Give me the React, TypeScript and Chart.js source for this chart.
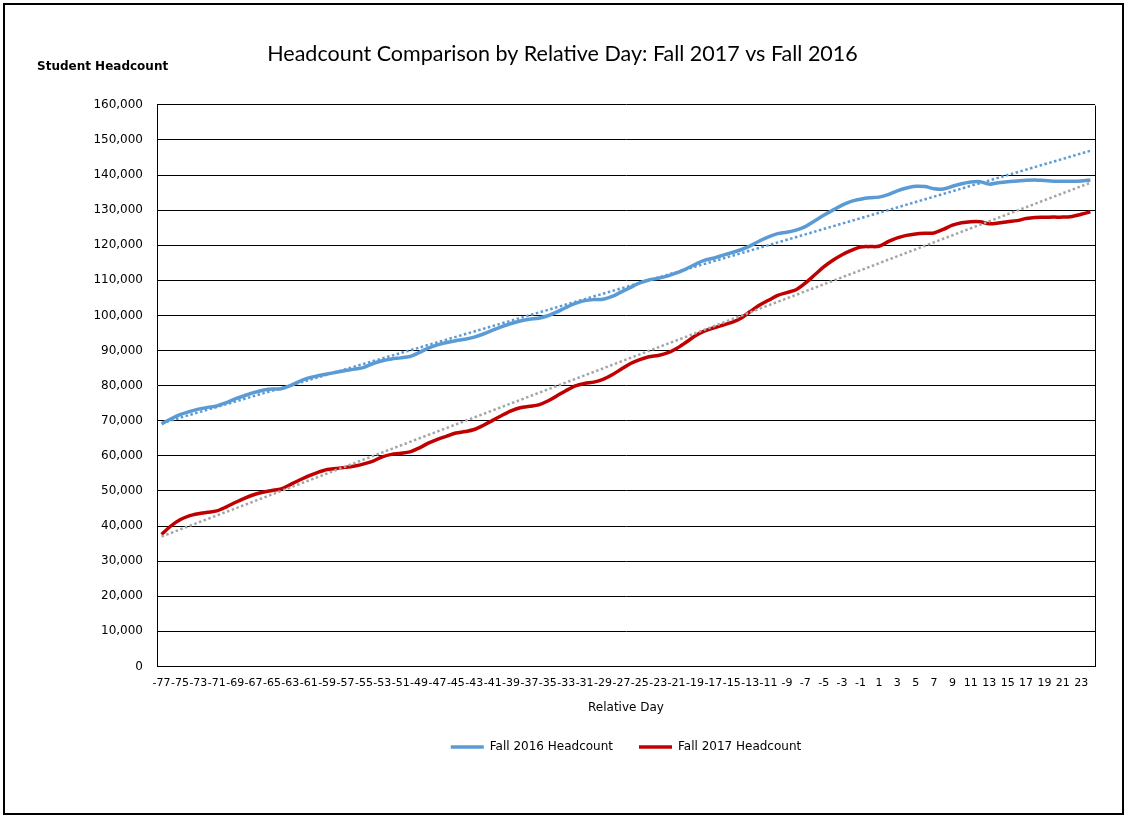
import React, { useEffect, useRef } from "react";
import { Chart, registerables } from "chart.js";

Chart.register(...registerables);

// Relative day categories (-77 .. 24)
const relativeDays: number[] = [
  -77, -76, -75, -74, -73, -72, -71, -70, -69, -68,
  -67, -66, -65, -64, -63, -62, -61, -60, -59, -58,
  -57, -56, -55, -54, -53, -52, -51, -50, -49, -48,
  -47, -46, -45, -44, -43, -42, -41, -40, -39, -38,
  -37, -36, -35, -34, -33, -32, -31, -30, -29, -28,
  -27, -26, -25, -24, -23, -22, -21, -20, -19, -18,
  -17, -16, -15, -14, -13, -12, -11, -10, -9, -8,
  -7, -6, -5, -4, -3, -2, -1, 0, 1, 2,
  3, 4, 5, 6, 7, 8, 9, 10, 11, 12,
  13, 14, 15, 16, 17, 18, 19, 20, 21, 22,
  23, 24,
];

const fall2016: number[] = [
  69100, 70500, 71700, 72600, 73300, 73800, 74200, 75100, 76200, 77100,
  78000, 78700, 79000, 79100, 80000, 81200, 82200, 82800, 83300, 83800,
  84300, 84700, 85200, 86300, 87100, 87600, 87900, 88300, 89400, 90700,
  91600, 92300, 92800, 93200, 93800, 94700, 95800, 96800, 97700, 98400,
  98900, 99200, 99900, 101000, 102300, 103400, 104200, 104500, 104600, 105400,
  106700, 108000, 109300, 110100, 110600, 111200, 112100, 113200, 114500, 115700,
  116300, 117100, 117900, 118700, 119800, 121200, 122400, 123300, 123700, 124300,
  125300, 126900, 128500, 130000, 131400, 132500, 133100, 133500, 133700, 134400,
  135500, 136300, 136800, 136700, 136100, 136000, 136800, 137500, 138000, 138100,
  137400, 137800, 138100, 138300, 138500, 138600, 138400, 138200, 138200, 138200,
  138300, 138600,
];

const fall2017: number[] = [
  37600, 40000, 41800, 42900, 43500, 43900, 44300, 45400, 46700, 47900,
  48900, 49600, 50100, 50600, 51800, 53100, 54300, 55300, 56100, 56400,
  56700, 57100, 57700, 58500, 59700, 60400, 60700, 61100, 62200, 63600,
  64700, 65600, 66500, 66900, 67500, 68700, 70100, 71500, 72800, 73700,
  74100, 74500, 75600, 77100, 78600, 79900, 80600, 81000, 81800, 83100,
  84700, 86300, 87400, 88200, 88600, 89300, 90600, 92300, 94100, 95500,
  96400, 97200, 98000, 99200, 101100, 102900, 104300, 105700, 106500, 107300,
  109200, 111500, 113800, 115700, 117300, 118500, 119500, 119600, 119700, 121000,
  122100, 122800, 123200, 123400, 123500, 124500, 125700, 126400, 126700, 126700,
  126100, 126300, 126700, 127000, 127600, 127900, 127950, 128000, 128000, 128200,
  128800, 129500,
];

// Linear trendline end values (first and last category)
const trend2016Ends: number[] = [69300, 146900];
const trend2017Ends: number[] = [37000, 137800];

const yMin = 0;
const yMax = 160000;
const yStep = 10000;

const TITLE = "Headcount Comparison by Relative Day: Fall 2017 vs Fall 2016";
const Y_TITLE = "Student Headcount";
const X_TITLE = "Relative Day";
const SERIES_2016 = "Fall 2016 Headcount";
const SERIES_2017 = "Fall 2017 Headcount";

const BLUE = "#5B9BD5";
const RED = "#C00000";
const GRAY = "#A5A5A5";

function endsToSeries(ends: number[], n: number): (number | null)[] {
  const arr: (number | null)[] = new Array(n).fill(null);
  arr[0] = ends[0];
  arr[n - 1] = ends[1];
  return arr;
}

const framePlugin = {
  id: "frameAndYTitle",
  beforeDatasetsDraw(chart: any) {
    const { ctx, chartArea: a } = chart;
    ctx.save();
    ctx.strokeStyle = "#000";
    ctx.lineWidth = 1;
    const t = Math.round(a.top) + 0.5;
    const r = Math.round(a.right) + 0.5;
    const b = Math.round(a.bottom) + 0.5;
    ctx.beginPath();
    ctx.moveTo(r, t);
    ctx.lineTo(r, b);
    ctx.stroke();
    ctx.restore();
  },
  afterDraw(chart: any) {
    const { ctx } = chart;
    ctx.save();
    ctx.font = 'bold 12px "DejaVu Sans"';
    ctx.fillStyle = "#000";
    ctx.textBaseline = "middle";
    ctx.textAlign = "left";
    ctx.fillText(Y_TITLE, 37, 67);
    ctx.restore();
  },
};

export default function App() {
  const canvasRef = useRef<HTMLCanvasElement | null>(null);

  useEffect(() => {
    if (!canvasRef.current) return;
    const n = relativeDays.length;
    const chart = new Chart(canvasRef.current, {
      type: "line",
      data: {
        labels: relativeDays.map((d) => String(d)),
        datasets: [
          {
            label: "Linear (Fall 2016 Headcount)",
            data: endsToSeries(trend2016Ends, n),
            borderColor: BLUE,
            borderWidth: 2.5,
            borderDash: [2.5, 2.5],
            pointRadius: 0,
            spanGaps: true,
            tension: 0,
            fill: false,
          },
          {
            label: "Linear (Fall 2017 Headcount)",
            data: endsToSeries(trend2017Ends, n),
            borderColor: GRAY,
            borderWidth: 2.5,
            borderDash: [2.5, 2.5],
            pointRadius: 0,
            spanGaps: true,
            tension: 0,
            fill: false,
          },
          {
            label: SERIES_2016,
            data: fall2016,
            borderColor: BLUE,
            backgroundColor: BLUE,
            borderWidth: 3.5,
            pointRadius: 0,
            tension: 0.3,
            fill: false,
          },
          {
            label: SERIES_2017,
            data: fall2017,
            borderColor: RED,
            backgroundColor: RED,
            borderWidth: 3.5,
            pointRadius: 0,
            tension: 0.3,
            fill: false,
          },
        ],
      },
      options: {
        responsive: false,
        animation: false,
        devicePixelRatio: 1,
        layout: { padding: { left: 0, right: 0, top: 0, bottom: 54 } },
        plugins: {
          title: {
            display: true,
            text: TITLE,
            color: "#000",
            font: { family: "Lato", size: 21.5, weight: "normal" },
            padding: { top: 41, bottom: 38 },
          },
          legend: {
            position: "bottom",
            fullSize: false,
            labels: {
              usePointStyle: true,
              pointStyle: "line",
              pointStyleWidth: 33,
              boxHeight: 12,
              padding: 26,
              color: "#000",
              font: { family: "DejaVu Sans", size: 12 },
              filter: (item: any) => item.datasetIndex >= 2,
            },
          },
          tooltip: { enabled: false },
        },
        scales: {
          x: {
            type: "category",
            offset: true,
            grid: { display: false, drawTicks: false },
            border: { display: true, color: "#000", width: 1 },
            ticks: {
              autoSkip: false,
              maxRotation: 0,
              minRotation: 0,
              padding: 10,
              color: "#000",
              font: { family: "DejaVu Sans", size: 11 },
              callback: (_v: any, i: number) => (i % 2 === 0 ? String(relativeDays[i]) : ""),
            },
            title: {
              display: true,
              text: X_TITLE,
              color: "#000",
              font: { family: "DejaVu Sans", size: 12 },
              padding: { top: 1, bottom: 0 },
            },
          },
          y: {
            min: yMin,
            max: yMax,
            ticks: {
              stepSize: yStep,
              padding: 14,
              color: "#000",
              font: { family: "DejaVu Sans", size: 12 },
              callback: (v: any) => Number(v).toLocaleString("en-US"),
            },
            grid: { color: "#000", lineWidth: 1, drawTicks: false },
            border: { display: true, color: "#000", width: 1 },
            afterFit: (s: any) => {
              s.width = 157;
            },
          },
          yRightSpacer: {
            type: "linear",
            position: "right",
            display: true,
            min: yMin,
            max: yMax,
            grid: { display: false, drawTicks: false },
            border: { display: false },
            ticks: { display: false },
            afterFit: (s: any) => {
              s.width = 30;
            },
          },
        },
      },
      plugins: [framePlugin],
    });
    return () => chart.destroy();
  }, []);

  return (
    <div style={{ position: "fixed", left: 0, top: 0, width: 1125, height: 817, background: "#fff" }}>
      <canvas ref={canvasRef} width={1125} height={817} style={{ width: 1125, height: 817, display: "block" }} />
      <div
        style={{
          position: "absolute",
          left: 3,
          top: 3,
          width: 1121,
          height: 812,
          border: "2px solid #000",
          boxSizing: "border-box",
          pointerEvents: "none",
        }}
      />
    </div>
  );
}
